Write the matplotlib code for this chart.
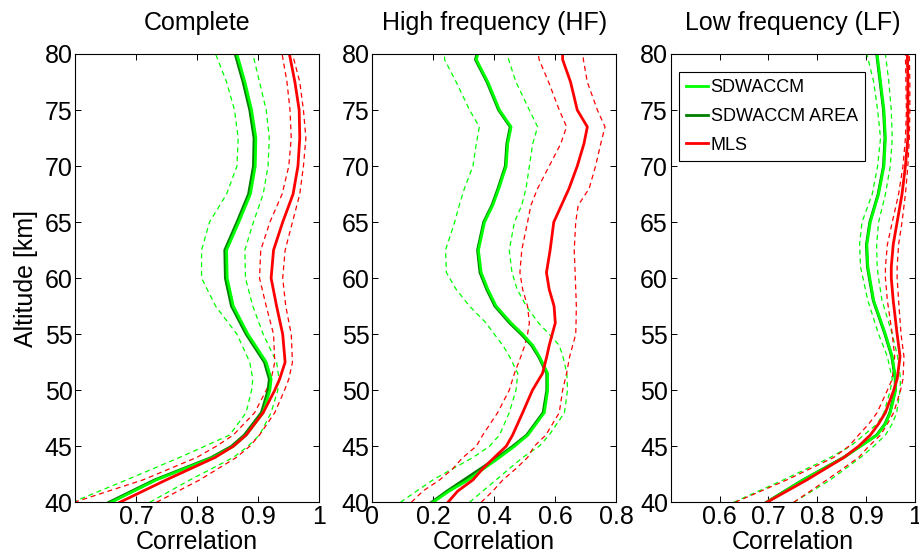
import matplotlib
matplotlib.use('Agg')
import matplotlib.pyplot as plt

plt.rcParams['font.family'] = ['Liberation Sans', 'DejaVu Sans']

# ---- data ----
titles = ['Complete', 'High frequency (HF)', 'Low frequency (LF)']

# Complete
alt1 = [40, 42, 44, 45, 46, 48, 50, 51, 52.5, 55, 57.5, 60, 62.5, 65, 67.5, 70, 72.5, 75, 77.5, 80]
sd1 = [.659, .733, .826, .859, .880, .908, .919, .921, .913, .883, .859, .849, .848, .868, .887, .895, .896, .889, .878, .865]
sd1_lo = [.595, .684, .771, .812, .853, .880, .889, .891, .886, .865, .830, .807, .807, .820, .848, .865, .867, .861, .848, .830]
sd1_hi = [.722, .788, .859, .883, .902, .921, .932, .934, .930, .908, .891, .879, .878, .892, .908, .916, .918, .913, .902, .891]
area1 = [.655, .730, .823, .856, .877, .905, .916, .918, .910, .880, .856, .846, .845, .865, .884, .892, .893, .886, .875, .862]
mls1 = [.673, .749, .829, .859, .880, .908, .927, .935, .944, .940, .930, .921, .925, .940, .957, .965, .968, .967, .960, .951]
mls1_lo = [.598, .711, .799, .831, .859, .894, .913, .921, .927, .925, .913, .902, .904, .919, .939, .950, .954, .952, .947, .939]
mls1_hi = [.733, .804, .864, .886, .902, .927, .943, .950, .956, .954, .945, .940, .944, .956, .968, .974, .978, .974, .968, .956]

# High frequency
alt2 = [40, 41, 42, 43, 44, 45, 46, 48, 50, 51.5, 53, 54, 55, 56, 57.5, 59, 60.5, 62.5, 65, 66.5, 68, 70, 72, 73.5, 75, 77.5, 79.5, 80]
sd2 = [.199, .252, .315, .365, .417, .466, .510, .564, .575, .575, .548, .526, .493, .455, .406, .379, .357, .348, .368, .395, .415, .439, .444, .455, .417, .379, .341, .346]
sd2_lo = [.092, .145, .199, .264, .330, .384, .417, .449, .471, .477, .450, .428, .400, .373, .319, .275, .243, .240, .270, .285, .302, .330, .341, .351, .319, .275, .237, .237]
sd2_hi = [.319, .362, .406, .449, .493, .547, .580, .630, .640, .638, .625, .613, .580, .545, .505, .475, .458, .449, .466, .490, .504, .515, .526, .542, .515, .471, .447, .444]
area2 = [.194, .245, .300, .355, .410, .460, .506, .560, .572, .572, .545, .522, .488, .450, .402, .375, .353, .345, .365, .392, .412, .436, .441, .452, .414, .376, .338, .343]
mls2 = [.248, .280, .330, .362, .400, .439, .460, .493, .525, .558, .572, .580, .590, .600, .596, .580, .571, .583, .595, .620, .645, .672, .694, .705, .672, .650, .624, .624]
mls2_lo = [.128, .166, .221, .264, .297, .341, .362, .411, .449, .466, .487, .500, .509, .515, .509, .493, .484, .490, .509, .520, .542, .580, .618, .637, .613, .578, .547, .544]
mls2_hi = [.357, .395, .428, .471, .509, .531, .569, .613, .624, .637, .647, .657, .667, .668, .669, .667, .665, .662, .667, .675, .711, .732, .749, .763, .738, .705, .692, .691]

# Low frequency
alt3 = [40, 42, 44, 45, 46, 47, 48, 50, 51, 53, 55, 58, 60, 61, 63, 65, 67.5, 70, 72.5, 75, 77.5, 80]
sd3 = [.697, .772, .855, .889, .923, .940, .950, .961, .961, .954, .940, .916, .908, .904, .902, .909, .926, .937, .940, .937, .930, .923]
sd3_lo = [.629, .731, .827, .868, .896, .923, .937, .950, .954, .944, .926, .904, .894, .889, .887, .892, .913, .924, .930, .924, .916, .902]
sd3_hi = [.752, .827, .889, .916, .940, .954, .963, .970, .971, .965, .954, .933, .926, .923, .922, .926, .940, .950, .954, .952, .947, .940]
area3 = [.696, .771, .854, .888, .922, .939, .949, .960, .960, .953, .939, .915, .907, .903, .901, .908, .925, .936, .939, .936, .929, .922]
mls3 = [.697, .779, .855, .885, .909, .926, .940, .957, .964, .970, .964, .956, .952, .952, .956, .964, .974, .981, .986, .986, .986, .985]
mls3_lo = [.632, .738, .834, .865, .885, .906, .923, .944, .954, .959, .954, .944, .940, .940, .944, .954, .967, .976, .981, .983, .982, .981]
mls3_hi = [.752, .820, .885, .906, .930, .944, .957, .971, .976, .978, .972, .967, .964, .964, .967, .974, .981, .986, .989, .990, .990, .989]

xlims = [(0.6, 1.0), (0.0, 0.8), (0.5, 1.0)]
xticks = [[0.7, 0.8, 0.9, 1.0], [0, 0.2, 0.4, 0.6, 0.8], [0.6, 0.7, 0.8, 0.9, 1.0]]
xticklabels = [['0.7', '0.8', '0.9', '1'], ['0', '0.2', '0.4', '0.6', '0.8'],
               ['0.6', '0.7', '0.8', '0.9', '1']]
yticks = [40, 45, 50, 55, 60, 65, 70, 75, 80]

panels = [
    (alt1, sd1, sd1_lo, sd1_hi, area1, mls1, mls1_lo, mls1_hi),
    (alt2, sd2, sd2_lo, sd2_hi, area2, mls2, mls2_lo, mls2_hi),
    (alt3, sd3, sd3_lo, sd3_hi, area3, mls3, mls3_lo, mls3_hi),
]

LIGHT = '#00ff00'
DARK = '#008000'
RED = '#ff0000'
FS = 18

fig = plt.figure(figsize=(9.19, 5.57), dpi=100)
lefts = [75.3, 372.3, 670.7]
W, H = 919.0, 557.0
for i, (alt, sd, sd_lo, sd_hi, area, mls, mls_lo, mls_hi) in enumerate(panels):
    ax = fig.add_axes([lefts[i] / W, (H - 502.3) / H, 244.0 / W, 448.3 / H])

    # confidence bounds (dashed)
    ax.plot(sd_lo, alt, '--', color=LIGHT, lw=0.9, dashes=(4, 3))
    ax.plot(sd_hi, alt, '--', color=LIGHT, lw=0.9, dashes=(4, 3))
    ax.plot(mls_lo, alt, '--', color=RED, lw=0.9, dashes=(4, 3))
    ax.plot(mls_hi, alt, '--', color=RED, lw=0.9, dashes=(4, 3))

    # main curves
    h_area, = ax.plot(area, alt, color=DARK, lw=2.0, label='SDWACCM AREA')
    h_sd, = ax.plot(sd, alt, color=LIGHT, lw=2.0, label='SDWACCM')
    h_mls, = ax.plot(mls, alt, color=RED, lw=2.0, label='MLS')

    ax.set_xlim(*xlims[i])
    ax.set_ylim(40, 80)
    ax.set_xticks(xticks[i])
    ax.set_xticklabels(xticklabels[i])
    ax.set_yticks(yticks)
    ax.tick_params(direction='in', top=True, right=True, length=4, width=0.7,
                   labelsize=FS, pad=2)
    for s in ax.spines.values():
        s.set_linewidth(0.8)
    ax.set_xlabel('Correlation', fontsize=FS, labelpad=1)
    ax.set_title(titles[i], fontsize=FS, pad=17)
    if i == 0:
        ax.set_ylabel('Altitude [km]', fontsize=FS, labelpad=5)
    if i == 2:
        leg = ax.legend([h_sd, h_area, h_mls], ['SDWACCM', 'SDWACCM AREA', 'MLS'],
                        loc='upper left', bbox_to_anchor=(0.034, 0.96), borderaxespad=0,
                        fontsize=13, handlelength=1.2, handletextpad=0.15,
                        labelspacing=0.65, borderpad=0.4, fancybox=False,
                        framealpha=1, edgecolor='black')
        leg.get_frame().set_linewidth(0.8)

fig.savefig('out.png', dpi=100)
